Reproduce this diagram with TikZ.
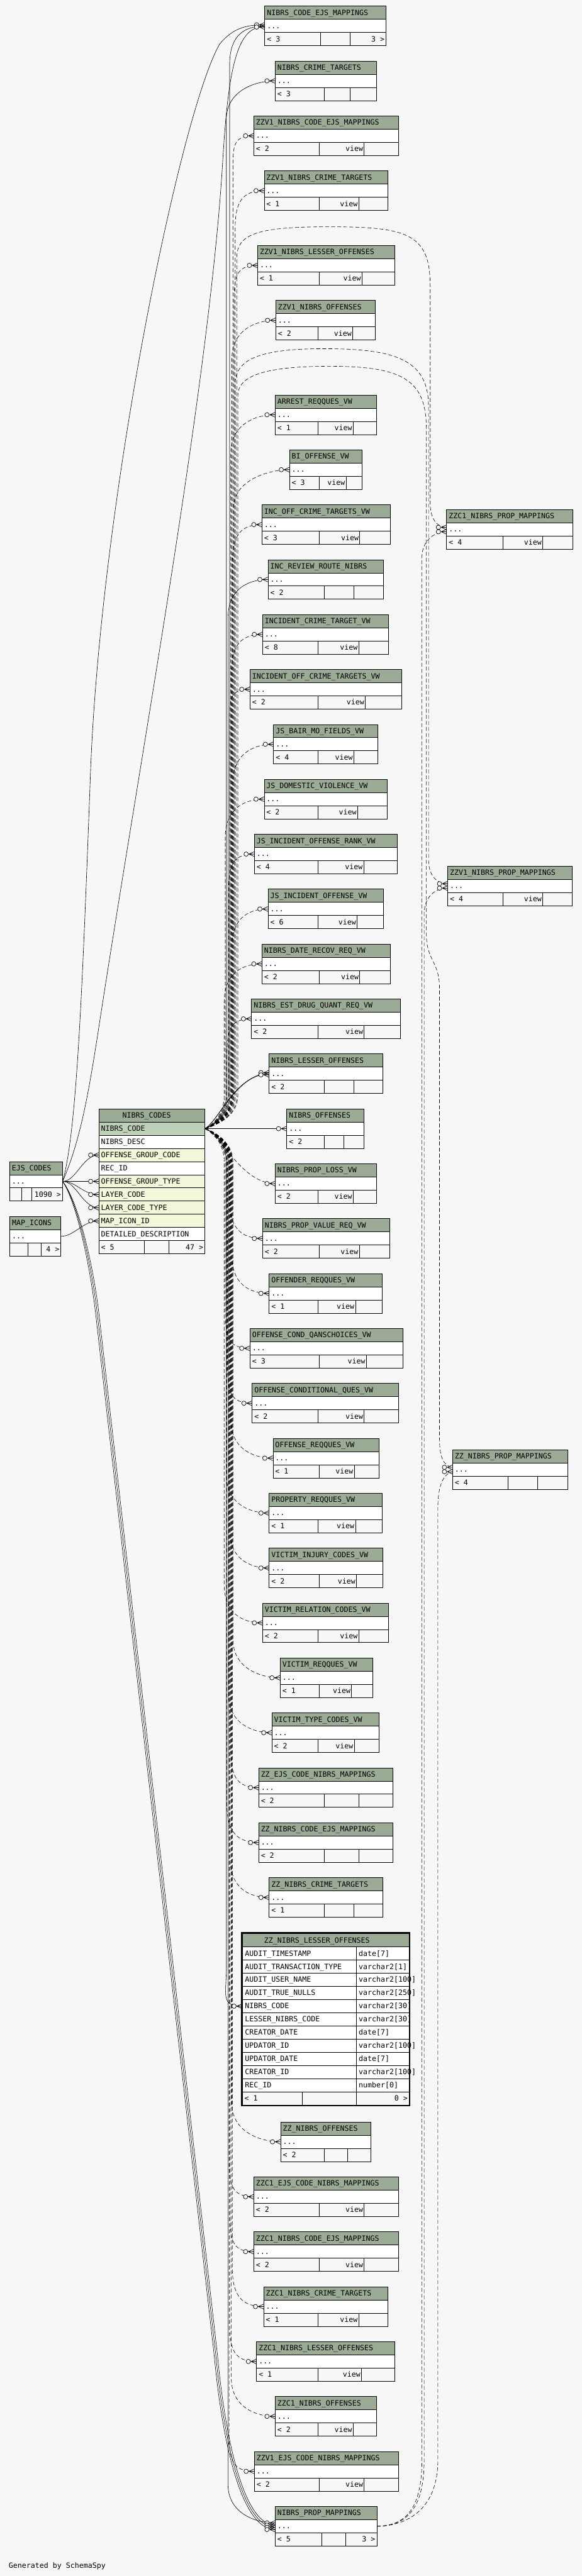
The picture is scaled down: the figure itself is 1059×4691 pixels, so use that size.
\documentclass[tikz,border=0pt]{standalone}
\usepackage{fontspec}
\newfontfamily\monofam{DejaVu Sans Mono}
\usetikzlibrary{calc}
\definecolor{bgc}{HTML}{F7F7F7}
\definecolor{hdr}{HTML}{9BAB96}
\definecolor{pkc}{HTML}{BED1B8}
\definecolor{fkc}{HTML}{F4F7DA}
\newcommand\tfont{\monofam\fontsize{13.3pt}{15pt}\selectfont}
\tikzset{
  box/.style={draw=black, line width=1pt, inner sep=0pt, outer sep=0pt, minimum height=24pt, anchor=north west},
  txt/.style={inner sep=0pt, outer sep=0pt, font=\tfont},
  rel/.style={line width=0.7pt},
  vrel/.style={line width=0.7pt, dash pattern=on 7pt off 4pt},
}
% id, left, top, right, fill, text
\newcommand\rowbox[6]{%
  \node[box, fill=#5, minimum width={(#4-(#2))*1pt}] (#1) at ({#2},{-(#3)}) {};
  \node[txt, anchor=base west] at ([xshift=4pt,yshift=-16.5pt]#1.north west) {#6};
}
% id, left, top, right, d1, d2, title, f1, f2
\newcommand\tbl[9]{%
  \rowbox{#1h}{#2}{#3}{#4}{hdr}{#7}
  \rowbox{#1}{#2}{#3+24}{#4}{white}{...}
  \node[box, fill=bgc, minimum width={(#5-(#2))*1pt}] (#1fa) at ({#2},{-(#3+48)}) {};
  \node[box, fill=bgc, minimum width={(#6-(#5))*1pt}] (#1fb) at ({#5},{-(#3+48)}) {};
  \node[box, fill=bgc, minimum width={(#4-(#6))*1pt}] (#1fc) at ({#6},{-(#3+48)}) {};
  \node[txt, anchor=base west] at ([xshift=4pt,yshift=-16.5pt]#1fa.north west) {#8};
  \node[txt, anchor=base east] at ([xshift=-2pt,yshift=-16.5pt]#1fb.north east) {#9};
}
\newcommand\fthree[2]{\node[txt, anchor=base east] at ([xshift=-3pt,yshift=-16.5pt]#1fc.north east) {#2};}
\newcommand\frow[4]{%
  \node[box, fill=white, minimum width=208pt] (#1) at (441,{-(#2)}) {};
  \node[box, fill=white, minimum width=96pt] (#1t) at (649,{-(#2)}) {};
  \node[txt, anchor=base west] at ([xshift=5pt,yshift=-16.5pt]#1.north west) {#3};
  \node[txt, anchor=base west] at ([xshift=4pt,yshift=-16.5pt]#1t.north west) {#4};
}
\newcommand\crowft[2][0]{%
  \draw[line width=0.8pt] ([xshift=-10pt,yshift=#1pt]#2.west) -- ([yshift={#1pt+4.5pt}]#2.west)
    ([xshift=-10pt,yshift=#1pt]#2.west) -- ([yshift=#1pt]#2.west)
    ([xshift=-10pt,yshift=#1pt]#2.west) -- ([yshift={#1pt-4.5pt}]#2.west);
  \draw[line width=0.8pt, fill=bgc] ([xshift=-15pt,yshift=#1pt]#2.west) circle (4pt);
}
\newcommand\lnup[3]{%
  \draw[#1] let \p1=(pk.east), \p2=(#2) in
    (\p1) .. controls ({(\x1+#3pt)/2},{\y1+8pt}) and ({#3pt},{\y1+30pt}) .. ({#3pt},{\y1+60pt})
    -- ({#3pt},{\y2-70pt}) .. controls ({#3pt},{\y2-20pt}) and ({\x2-40pt},\y2) .. (\p2);}
\newcommand\lndn[3]{%
  \draw[#1] let \p1=(pk.east), \p2=(#2) in
    (\p1) .. controls ({(\x1+#3pt)/2},{\y1-8pt}) and ({#3pt},{\y1-30pt}) .. ({#3pt},{\y1-60pt})
    -- ({#3pt},{\y2+70pt}) .. controls ({#3pt},{\y2+20pt}) and ({\x2-40pt},\y2) .. (\p2);}

\begin{document}
\begin{tikzpicture}[x=1pt,y=1pt]
\useasboundingbox (0,0) rectangle (1059,-4691);
\fill[bgc] (0,0) rectangle (1059,-4691);

% ---------- right column tables ----------
\tbl{ncem}{482}{11.3}{703}{583}{637}{NIBRS\_CODE\_EJS\_MAPPINGS}{< 3}{}
\fthree{ncem}{3 >}
\tbl{nct}{501}{111.3}{685}{590}{637}{NIBRS\_CRIME\_TARGETS}{< 3}{}
\tbl{zvncem}{462}{211.3}{725}{581}{663}{ZZV1\_NIBRS\_CODE\_EJS\_MAPPINGS}{< 2}{view}
\tbl{zvnct}{481}{311.3}{706}{581}{653}{ZZV1\_NIBRS\_CRIME\_TARGETS}{< 1}{view}
\tbl{zvnlo}{469}{447.3}{719}{581}{659}{ZZV1\_NIBRS\_LESSER\_OFFENSES}{< 1}{view}
\tbl{zvno}{502}{547.3}{683}{579}{642}{ZZV1\_NIBRS\_OFFENSES}{< 2}{view}
\tbl{arr}{501}{719.3}{685}{579}{643}{ARREST\_REQQUES\_VW}{< 1}{view}
\tbl{bio}{527}{819.3}{659}{581}{630}{BI\_OFFENSE\_VW}{< 3}{view}
\tbl{ioct}{477}{919.3}{710}{581}{655}{INC\_OFF\_CRIME\_TARGETS\_VW}{< 3}{view}
\tbl{irrn}{488}{1019.3}{698}{590}{644}{INC\_REVIEW\_ROUTE\_NIBRS}{< 2}{}
\tbl{ictv}{478}{1119.3}{707}{579}{653}{INCIDENT\_CRIME\_TARGET\_VW}{< 8}{view}
\tbl{ioctv}{455}{1219.3}{731}{579}{665}{INCIDENT\_OFF\_CRIME\_TARGETS\_VW}{< 2}{view}
\tbl{jsb}{498}{1319.3}{688}{579}{644}{JS\_BAIR\_MO\_FIELDS\_VW}{< 4}{view}
\tbl{jsd}{481}{1419.3}{705}{579}{651}{JS\_DOMESTIC\_VIOLENCE\_VW}{< 2}{view}
\tbl{jsir}{463}{1519.3}{723}{579}{662}{JS\_INCIDENT\_OFFENSE\_RANK\_VW}{< 4}{view}
\tbl{jsio}{488}{1619.3}{698}{579}{650}{JS\_INCIDENT\_OFFENSE\_VW}{< 6}{view}
\tbl{ndr}{477}{1719.3}{710}{581}{655}{NIBRS\_DATE\_RECOV\_REQ\_VW}{< 2}{view}
\tbl{ned}{458}{1819.3}{729}{579}{663}{NIBRS\_EST\_DRUG\_QUANT\_REQ\_VW}{< 2}{view}
\tbl{nlo}{490}{1919.3}{697}{590}{644}{NIBRS\_LESSER\_OFFENSES}{< 2}{}
\tbl{nof}{522}{2019.3}{663}{590}{626}{NIBRS\_OFFENSES}{< 2}{}
\tbl{npl}{501}{2119.3}{685}{579}{643}{NIBRS\_PROP\_LOSS\_VW}{< 2}{view}
\tbl{npv}{478}{2219.3}{709}{581}{654}{NIBRS\_PROP\_VALUE\_REQ\_VW}{< 2}{view}
\tbl{orq}{490}{2319.3}{696}{579}{647}{OFFENDER\_REQQUES\_VW}{< 1}{view}
\tbl{ocq}{455}{2419.3}{733}{581}{667}{OFFENSE\_COND\_QANSCHOICES\_VW}{< 3}{view}
\tbl{ocd}{459}{2519.3}{726}{579}{663}{OFFENSE\_CONDITIONAL\_QUES\_VW}{< 2}{view}
\tbl{ofr}{497}{2619.3}{690}{581}{645}{OFFENSE\_REQQUES\_VW}{< 1}{view}
\tbl{prq}{490}{2719.3}{696}{579}{647}{PROPERTY\_REQQUES\_VW}{< 1}{view}
\tbl{vic}{490}{2819.3}{697}{581}{649}{VICTIM\_INJURY\_CODES\_VW}{< 2}{view}
\tbl{vrc}{478}{2919.3}{707}{579}{653}{VICTIM\_RELATION\_CODES\_VW}{< 2}{view}
\tbl{vrq}{510}{3019.3}{678}{581}{640}{VICTIM\_REQQUES\_VW}{< 1}{view}
\tbl{vtc}{495}{3119.3}{690}{579}{645}{VICTIM\_TYPE\_CODES\_VW}{< 2}{view}
\tbl{zecnm}{471}{3219.3}{715}{590}{653}{ZZ\_EJS\_CODE\_NIBRS\_MAPPINGS}{< 2}{}
\tbl{zncem}{471}{3319.3}{715}{590}{653}{ZZ\_NIBRS\_CODE\_EJS\_MAPPINGS}{< 2}{}
\tbl{znct}{490}{3419.3}{697}{590}{644}{ZZ\_NIBRS\_CRIME\_TARGETS}{< 1}{}
\tbl{zno}{511}{3864.3}{675}{590}{633}{ZZ\_NIBRS\_OFFENSES}{< 2}{}
\tbl{zcecnm}{462}{3964.3}{726}{581}{663}{ZZC1\_EJS\_CODE\_NIBRS\_MAPPINGS}{< 2}{view}
\tbl{zcncem}{462}{4064.3}{726}{581}{663}{ZZC1\_NIBRS\_CODE\_EJS\_MAPPINGS}{< 2}{view}
\tbl{zcnct}{480}{4164.3}{706}{579}{653}{ZZC1\_NIBRS\_CRIME\_TARGETS}{< 1}{view}
\tbl{zcnlo}{467}{4264.3}{719}{579}{658}{ZZC1\_NIBRS\_LESSER\_OFFENSES}{< 1}{view}
\tbl{zcno}{501}{4364.3}{685}{579}{643}{ZZC1\_NIBRS\_OFFENSES}{< 2}{view}
\tbl{zvecnm}{463}{4464.3}{725}{581}{663}{ZZV1\_EJS\_CODE\_NIBRS\_MAPPINGS}{< 2}{view}
\tbl{npm}{501}{4564.3}{686}{586}{629}{NIBRS\_PROP\_MAPPINGS}{< 5}{}
\fthree{npm}{3 >}

% ---------- far right ----------
\tbl{zcnpm}{813}{928.3}{1043}{915}{988}{ZZC1\_NIBRS\_PROP\_MAPPINGS}{< 4}{view}
\tbl{zvnpm}{815}{1577.3}{1041}{915}{988}{ZZV1\_NIBRS\_PROP\_MAPPINGS}{< 4}{view}
\tbl{zznpm}{824}{2640}{1033}{925}{979}{ZZ\_NIBRS\_PROP\_MAPPINGS}{< 4}{}

% ---------- left ----------
\tbl{ejs}{17.5}{2115.3}{114}{39}{58}{EJS\_CODES}{}{}
\fthree{ejs}{1090 >}
\tbl{mapi}{18}{2215.3}{111}{51}{75}{MAP\_ICONS}{}{}
\fthree{mapi}{4 >}

% ---------- NIBRS_CODES ----------
\node[box, fill=hdr, minimum width=193pt] (nch) at (180,-2019.3) {};
\node[txt, anchor=base] at (267,-2035.8) {NIBRS\_CODES};
\rowbox{pk}{180}{2043.3}{373}{pkc}{NIBRS\_CODE}
\rowbox{ncDesc}{180}{2067.3}{373}{white}{NIBRS\_DESC}
\rowbox{ncOgc}{180}{2091.3}{373}{fkc}{OFFENSE\_GROUP\_CODE}
\rowbox{ncRec}{180}{2115.3}{373}{white}{REC\_ID}
\rowbox{ncOgt}{180}{2139.3}{373}{fkc}{OFFENSE\_GROUP\_TYPE}
\rowbox{ncLc}{180}{2163.3}{373}{fkc}{LAYER\_CODE}
\rowbox{ncLct}{180}{2187.3}{373}{fkc}{LAYER\_CODE\_TYPE}
\rowbox{ncMap}{180}{2211.3}{373}{fkc}{MAP\_ICON\_ID}
\rowbox{ncDet}{180}{2235.3}{373}{white}{DETAILED\_DESCRIPTION}
\node[box, fill=bgc, minimum width=83pt] (ncfa) at (180,-2259.3) {};
\node[box, fill=bgc, minimum width=44pt] (ncfb) at (263,-2259.3) {};
\node[box, fill=bgc, minimum width=66pt] (ncfc) at (307,-2259.3) {};
\node[txt, anchor=base west] at ([xshift=4pt,yshift=-16.5pt]ncfa.north west) {< 5};
\fthree{nc}{47 >}

% ---------- focus table ZZ_NIBRS_LESSER_OFFENSES ----------
\node[box, fill=hdr, minimum width=304pt] (znloh) at (441,-3521.3) {};
\node[txt, anchor=base] at (577,-3537.8) {ZZ\_NIBRS\_LESSER\_OFFENSES};
\frow{znloa}{3545.3}{AUDIT\_TIMESTAMP}{date[7]}
\frow{znlob}{3569.3}{AUDIT\_TRANSACTION\_TYPE}{varchar2[1]}
\frow{znloc}{3593.3}{AUDIT\_USER\_NAME}{varchar2[100]}
\frow{znlod}{3617.3}{AUDIT\_TRUE\_NULLS}{varchar2[250]}
\frow{znlonc}{3641.3}{NIBRS\_CODE}{varchar2[30]}
\frow{znloe}{3665.3}{LESSER\_NIBRS\_CODE}{varchar2[30]}
\frow{znlof}{3689.3}{CREATOR\_DATE}{date[7]}
\frow{znlog}{3713.3}{UPDATOR\_ID}{varchar2[100]}
\frow{znloi}{3737.3}{UPDATOR\_DATE}{date[7]}
\frow{znloj}{3761.3}{CREATOR\_ID}{varchar2[100]}
\frow{znlok}{3785.3}{REC\_ID}{number[0]}
\node[box, fill=bgc, minimum width=109pt] (znloFa) at (441,-3809.3) {};
\node[box, fill=bgc, minimum width=99pt] (znloFb) at (550,-3809.3) {};
\node[box, fill=bgc, minimum width=96pt] (znloFc) at (649,-3809.3) {};
\node[txt, anchor=base west] at ([xshift=4pt,yshift=-16.5pt]znloFa.north west) {< 1};
\node[txt, anchor=base east] at ([xshift=-3pt,yshift=-16.5pt]znloFc.north east) {0 >};
\draw[line width=2.5pt] (440,-3519.5) rectangle (746,-3834.5);

\node[txt, anchor=base west] (gen) at (16,-4677) {Generated by SchemaSpy};

% ---------- connectors from NIBRS_CODES.NIBRS_CODE ----------
\lnup{rel}{ncem.west}{418}
\lnup{rel}{nct.west}{412}
\lnup{vrel}{zvncem.west}{424}
\lnup{vrel}{zvnct.west}{428}
\lnup{vrel}{zvnlo.west}{426}
\lnup{vrel}{zvno.west}{422}
\lnup{vrel}{arr.west}{420}
\lnup{vrel}{bio.west}{425}
\lnup{vrel}{ioct.west}{423}
\lnup{rel}{irrn.west}{415}
\lnup{vrel}{ictv.west}{421}
\lnup{vrel}{ioctv.west}{418}
\lnup{vrel}{jsb.west}{424}
\lnup{vrel}{jsd.west}{410}
\lnup{vrel}{jsir.west}{416}
\lnup{vrel}{jsio.west}{422}
\lnup{vrel}{ndr.west}{408}
\lnup{vrel}{ned.west}{413}
\draw[rel] (pk.east) .. controls (400,-2040) and (425,-1960) .. ([yshift=2pt]nlo.west);
\draw[rel] (pk.east) .. controls (395,-2045) and (435,-1950) .. ([yshift=-2pt]nlo.west);
\draw[rel] (pk.east) -- (nof.west);
\draw[vrel] (pk.east) .. controls (405,-2070) and (440,-2155) .. (npl.west);
\lndn{vrel}{npv.west}{418}
\lndn{vrel}{orq.west}{422}
\lndn{vrel}{ocq.west}{410}
\lndn{vrel}{ocd.west}{414}
\lndn{vrel}{ofr.west}{420}
\lndn{vrel}{prq.west}{412}
\lndn{vrel}{vic.west}{418}
\lndn{vrel}{vrc.west}{408}
\lndn{vrel}{vrq.west}{424}
\lndn{vrel}{vtc.west}{416}
\lndn{vrel}{zecnm.west}{420}
\lndn{vrel}{zncem.west}{413}
\lndn{vrel}{znct.west}{419}
\lndn{rel}{znlonc.west}{412}
\lndn{vrel}{zno.west}{422}
\lndn{vrel}{zcecnm.west}{417}
\lndn{vrel}{zcncem.west}{419}
\lndn{vrel}{zcnct.west}{423}
\lndn{vrel}{zcnlo.west}{418}
\lndn{vrel}{zcno.west}{421}
\lndn{vrel}{zvecnm.west}{417}
\lndn{rel}{[yshift=6pt]npm.west}{415}

% arcs over the top to the far-right tables
\draw[vrel] (pk.east) .. controls (400,-2047) and (431,-2030) .. (431,-1995) -- (431,-470)
  .. controls (431,-425) and (470,-413) .. (600,-413) .. controls (740,-413) and (783,-425) .. (783,-520)
  -- (783,-915) .. controls (783,-945) and (795,-960) .. ([yshift=4pt]zcnpm.west);
\draw[vrel] (pk.east) .. controls (400,-2047) and (428,-2030) .. (428,-1995) -- (428,-700)
  .. controls (428,-655) and (470,-635) .. (590,-635) .. controls (720,-635) and (780,-655) .. (780,-740)
  -- (780,-1565) .. controls (780,-1595) and (795,-1609) .. ([yshift=4pt]zvnpm.west);
\draw[vrel] (pk.east) .. controls (400,-2047) and (433,-2030) .. (433,-1995) -- (433,-720)
  .. controls (433,-685) and (480,-667) .. (600,-667) .. controls (730,-667) and (776,-690) .. (776,-780)
  -- (776,-1700) .. controls (776,-1750) and (800,-1750) .. (800,-1800)
  -- (800,-2620) .. controls (800,-2655) and (808,-2670) .. ([yshift=4pt]zznpm.west);

% NIBRS_PROP_MAPPINGS -> far-right tables
\draw[vrel] (npm.east) .. controls (740,-4600) and (797,-4570) .. (797,-4480) -- (797,-2745)
  .. controls (797,-2710) and (805,-2684) .. ([yshift=-4pt]zznpm.west);
\draw[vrel] (npm.east) .. controls (735,-4600) and (772,-4575) .. (772,-4480) -- (772,-1665)
  .. controls (772,-1635) and (790,-1617) .. ([yshift=-4pt]zvnpm.west);
\draw[vrel] (npm.east) .. controls (733,-4600) and (768,-4575) .. (768,-4480) -- (768,-1015)
  .. controls (768,-985) and (790,-968) .. ([yshift=-4pt]zcnpm.west);

% EJS_CODES connectors
\draw[rel] (ejs.east) .. controls (140,-2060) and (150,-1800) .. (165,-1400)
  .. controls (185,-900) and (330,-200) .. (400,-80) .. controls (425,-50) and (450,-45) .. ([yshift=2pt]ncem.west);
\draw[rel] (ejs.east) .. controls (145,-2080) and (160,-2000) .. (180,-1870)
  .. controls (260,-1350) and (380,-700) .. (405,-300) .. controls (415,-130) and (430,-45) .. ([yshift=-2pt]ncem.west);
\draw[rel] (ejs.east) .. controls (140,-2190) and (165,-2310) .. (175,-2400) -- (390,-4290)
  .. controls (400,-4400) and (430,-4606) .. ([yshift=-6pt]npm.west);
\draw[rel] (ejs.east) .. controls (142,-2190) and (168,-2310) .. (178,-2400) -- (393,-4290)
  .. controls (403,-4400) and (433,-4602) .. ([yshift=-2pt]npm.west);
\draw[rel] (ejs.east) .. controls (144,-2190) and (171,-2310) .. (181,-2400) -- (396,-4290)
  .. controls (406,-4400) and (436,-4598) .. ([yshift=2pt]npm.west);
\draw[rel] (ejs.east) .. controls +(25,0) and +(-30,0) .. (ncOgc.west);
\draw[rel] (ejs.east) -- (ncOgt.west);
\draw[rel] (ejs.east) .. controls +(25,0) and +(-30,0) .. (ncLc.west);
\draw[rel] (ejs.east) .. controls +(25,0) and +(-30,0) .. (ncLct.west);
\draw[rel] (mapi.east) .. controls +(25,0) and +(-30,0) .. (ncMap.west);

% ---------- crow's foot markers ----------
\crowft[2]{ncem}\crowft[-2]{ncem}
\crowft{nct}\crowft{zvncem}\crowft{zvnct}\crowft{zvnlo}\crowft{zvno}
\crowft{arr}\crowft{bio}\crowft{ioct}\crowft{irrn}\crowft{ictv}\crowft{ioctv}
\crowft{jsb}\crowft{jsd}\crowft{jsir}\crowft{jsio}\crowft{ndr}\crowft{ned}
\crowft[2]{nlo}\crowft[-2]{nlo}\crowft{nof}\crowft{npl}\crowft{npv}\crowft{orq}
\crowft{ocq}\crowft{ocd}\crowft{ofr}\crowft{prq}\crowft{vic}\crowft{vrc}\crowft{vrq}
\crowft{vtc}\crowft{zecnm}\crowft{zncem}\crowft{znct}\crowft{znlonc}\crowft{zno}
\crowft{zcecnm}\crowft{zcncem}\crowft{zcnct}\crowft{zcnlo}\crowft{zcno}\crowft{zvecnm}
\crowft[6]{npm}\crowft[2]{npm}\crowft[-2]{npm}\crowft[-6]{npm}
\crowft[4]{zcnpm}\crowft[-4]{zcnpm}
\crowft[4]{zvnpm}\crowft[-4]{zvnpm}
\crowft[4]{zznpm}\crowft[-4]{zznpm}
\crowft{ncOgc}\crowft{ncOgt}\crowft{ncLc}\crowft{ncLct}\crowft{ncMap}
\end{tikzpicture}
\end{document}
